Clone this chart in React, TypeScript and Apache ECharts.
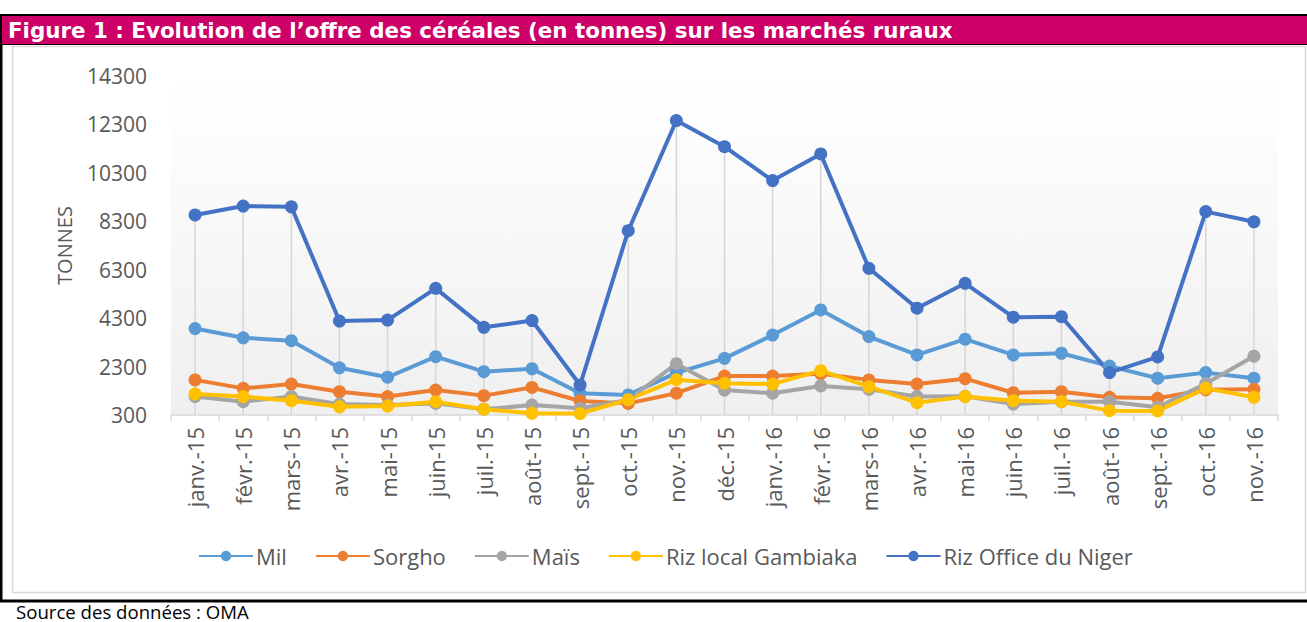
import React, { useEffect, useRef } from "react";
import * as echarts from "echarts";

const categories = [
  "janv.-15", "févr.-15", "mars-15", "avr.-15", "mai-15", "juin-15", "juil.-15", "août-15",
  "sept.-15", "oct.-15", "nov.-15", "déc.-15", "janv.-16", "févr.-16", "mars-16", "avr.-16",
  "mai-16", "juin-16", "juil.-16", "août-16", "sept.-16", "oct.-16", "nov.-16",
];

const mil = [3870, 3490, 3370, 2250, 1860, 2710, 2090, 2210, 1200, 1130, 2040, 2640, 3600, 4640, 3540, 2780, 3430, 2780, 2850, 2320, 1820, 2050, 1820];
const sorgho = [1750, 1400, 1580, 1260, 1060, 1330, 1100, 1440, 880, 780, 1200, 1910, 1910, 2000, 1750, 1580, 1800, 1220, 1260, 1030, 990, 1340, 1360];
const mais = [1060, 850, 1060, 750, 710, 780, 540, 710, 580, 920, 2420, 1330, 1200, 1500, 1360, 1060, 1070, 750, 850, 850, 620, 1600, 2730];
const rizLocal = [1170, 1060, 890, 640, 670, 850, 540, 370, 360, 930, 1760, 1610, 1580, 2130, 1470, 810, 1060, 890, 850, 480, 470, 1400, 1030];
const rizOffice = [8560, 8930, 8900, 4180, 4220, 5530, 3920, 4200, 1540, 7910, 12460, 11380, 9980, 11080, 6360, 4710, 5740, 4340, 4360, 2050, 2700, 8700, 8280];

const yTicks = { min: 300, max: 14300, interval: 2000 };

const seriesDefs = [
  { name: "Mil", data: mil, color: "#5B9BD5" },
  { name: "Sorgho", data: sorgho, color: "#ED7D31" },
  { name: "Maïs", data: mais, color: "#A5A5A5" },
  { name: "Riz local Gambiaka", data: rizLocal, color: "#FFC000" },
  { name: "Riz Office du Niger", data: rizOffice, color: "#4472C4" },
];

const FONT = "Open Sans";

export default function App() {
  const ref = useRef<HTMLDivElement>(null);
  useEffect(() => {
    if (!ref.current) return;
    const chart = echarts.init(ref.current, undefined, { renderer: "svg" });
    const dropValues = categories.map((_, i) => Math.max(...seriesDefs.map((s) => s.data[i])));
    chart.setOption({
      animation: false,
      backgroundColor: "#ffffff",
      textStyle: { fontFamily: FONT },
      title: [
        {
          text: "Figure 1 : Evolution de l’offre des céréales (en tonnes) sur les marchés ruraux",
          left: 8,
          top: 18,
          padding: 0,
          textStyle: { color: "#ffffff", fontFamily: "DejaVu Sans", fontWeight: "bold", fontSize: 21.4, lineHeight: 24 },
        },
        {
          text: "Source des données : OMA",
          left: 16,
          top: 601,
          padding: 0,
          textStyle: { color: "#000000", fontFamily: FONT, fontWeight: "normal", fontSize: 18.6, lineHeight: 20 },
        },
      ],
      graphic: [
        { type: "rect", z: -10, shape: { x: 0, y: 14, width: 1307, height: 31 }, style: { fill: "#000000" } },
        { type: "rect", z: -9, shape: { x: 2, y: 16, width: 1305, height: 28 }, style: { fill: "#CC0066" } },
        { type: "rect", z: -10, shape: { x: 0, y: 14, width: 2.5, height: 588 }, style: { fill: "#000000" } },
        { type: "rect", z: -10, shape: { x: 0, y: 599.5, width: 1307, height: 3 }, style: { fill: "#000000" } },
        {
          type: "rect",
          z: -10,
          shape: { x: 12.5, y: 46.5, width: 1293, height: 546 },
          style: { fill: "none", stroke: "#D9D9D9", lineWidth: 1.5 },
        },
      ],
      grid: {
        left: 171,
        right: 29,
        top: 76,
        bottom: 207,
        show: true,
        borderWidth: 0,
        backgroundColor: new echarts.graphic.LinearGradient(0, 0, 0, 1, [
          { offset: 0, color: "#ffffff" },
          { offset: 0.15, color: "#fdfdfd" },
          { offset: 1, color: "#efefef" },
        ]),
      },
      legend: {
        left: 193,
        top: 540,
        itemWidth: 54,
        itemHeight: 13,
        itemGap: 28,
        data: seriesDefs.map((s) => s.name),
        textStyle: { color: "#595959", fontSize: 22, fontFamily: FONT, padding: [0, 0, 0, -2] },
      },
      xAxis: {
        type: "category",
        data: categories,
        boundaryGap: true,
        axisLine: { lineStyle: { color: "#D9D9D9", width: 1.5 } },
        axisTick: { show: true, length: 6, lineStyle: { color: "#D9D9D9", width: 1.5 } },
        axisLabel: { rotate: 90, color: "#595959", fontSize: 22, margin: 12, interval: 0, fontFamily: FONT },
        splitLine: { show: false },
      },
      yAxis: {
        type: "value",
        min: yTicks.min,
        max: yTicks.max,
        interval: yTicks.interval,
        name: "TONNES",
        nameLocation: "middle",
        nameGap: 97,
        nameTextStyle: { color: "#595959", fontSize: 20, fontFamily: FONT },
        axisLine: { show: false },
        axisTick: { show: false },
        splitLine: { show: false },
        axisLabel: {
          color: "#595959",
          fontSize: 21,
          margin: 24,
          fontFamily: FONT,
          formatter: (v: number) => String(v),
        },
      },
      series: [
        {
          name: "drop",
          type: "bar",
          data: dropValues,
          barWidth: 1.5,
          clip: true,
          silent: true,
          z: 1,
          itemStyle: { color: "#D6D6D6" },
        },
        ...seriesDefs.map((s) => ({
          name: s.name,
          type: "line",
          data: s.data,
          symbol: "circle",
          symbolSize: 13,
          showAllSymbol: true,
          z: 3,
          lineStyle: { color: s.color, width: 4 },
          itemStyle: { color: s.color },
        })),
      ],
    });
    return () => chart.dispose();
  }, []);
  return (
    <div
      ref={ref}
      style={{ position: "fixed", left: 0, top: 0, width: 1307, height: 622 }}
    />
  );
}
